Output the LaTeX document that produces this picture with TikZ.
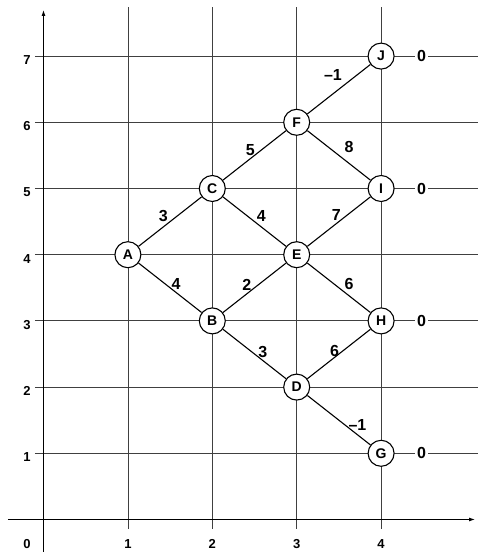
\documentclass[tikz,border=0pt]{standalone}
\usepackage{fontspec}
\setmainfont{Liberation Sans}
\usetikzlibrary{arrows.meta}
\begin{document}
\begin{tikzpicture}[x=84.4pt,y=66.2pt,
  gridline/.style={black!75,line width=0.8pt},
  axisline/.style={black,line width=0.9pt,-{Latex[length=6pt,width=4pt]}},
  vert/.style={circle,draw,fill=white,line width=1.1pt,minimum size=26pt,inner sep=0pt,font=\fontsize{14}{14}\selectfont\bfseries},
  edge/.style={black,line width=1.1pt},
  wt/.style={font=\fontsize{16}{16}\selectfont\bfseries,inner sep=1pt},
  zero/.style={font=\fontsize{16}{16}\selectfont\bfseries,fill=white,inner sep=2pt},
  tick/.style={font=\fontsize{13}{13}\selectfont\bfseries,inner sep=0pt}]
\useasboundingbox (-43.5pt,-32.5pt) rectangle (433.5pt,519.5pt);
% grid
\foreach \i in {1,2,3,4} \draw[gridline] (\i,-9.5pt) -- (\i,512.5pt);
\foreach \j in {1,...,7} \draw[gridline] (-8.5pt,\j) -- (440pt,\j);
% axes
\draw[axisline] (-35.5pt,0) -- (431.5pt,0);
\draw[axisline] (0,-34pt) -- (0,509.5pt);
% tick labels
\foreach \j in {1,...,7} \node[tick] (ty\j) at (-16.5pt,\j-0.06) {\j};
\node[tick] (tx0) at (-16.5pt,-24.5pt) {0};
\foreach \i in {1,2,3,4} \node[tick] (tx\i) at (\i,-24.5pt) {\i};
% vertices
\node[vert] (A) at (1,4) {A};
\node[vert] (B) at (2,3) {B};
\node[vert] (C) at (2,5) {C};
\node[vert] (D) at (3,2) {D};
\node[vert] (E) at (3,4) {E};
\node[vert] (F) at (3,6) {F};
\node[vert] (G) at (4,1) {G};
\node[vert] (H) at (4,3) {H};
\node[vert] (I) at (4,5) {I};
\node[vert] (J) at (4,7) {J};
% edges
\draw[edge] (A) -- (C);
\draw[edge] (A) -- (B);
\draw[edge] (C) -- (F);
\draw[edge] (C) -- (E);
\draw[edge] (B) -- (E);
\draw[edge] (B) -- (D);
\draw[edge] (F) -- (J);
\draw[edge] (F) -- (I);
\draw[edge] (E) -- (I);
\draw[edge] (E) -- (H);
\draw[edge] (D) -- (H);
\draw[edge] (D) -- (G);
% weights
\node[wt] (wFJ) at (3.43,6.71) {–1};
\node[wt] (wCF) at (2.45,5.58) {5};
\node[wt] (wFI) at (3.62,5.63) {8};
\node[wt] (wAC) at (1.42,4.59) {3};
\node[wt] (wCE) at (2.58,4.59) {4};
\node[wt] (wEI) at (3.47,4.60) {7};
\node[wt] (wAB) at (1.57,3.55) {4};
\node[wt] (wBE) at (2.41,3.55) {2};
\node[wt] (wEH) at (3.62,3.56) {6};
\node[wt] (wBD) at (2.60,2.53) {3};
\node[wt] (wDH) at (3.45,2.54) {6};
\node[wt] (wDG) at (3.72,1.43) {–1};
% terminal values
\node[zero] (zJ) at (4.48,7) {0};
\node[zero] (zI) at (4.48,5) {0};
\node[zero] (zH) at (4.48,3) {0};
\node[zero] (zG) at (4.48,1) {0};
\end{tikzpicture}
\end{document}
